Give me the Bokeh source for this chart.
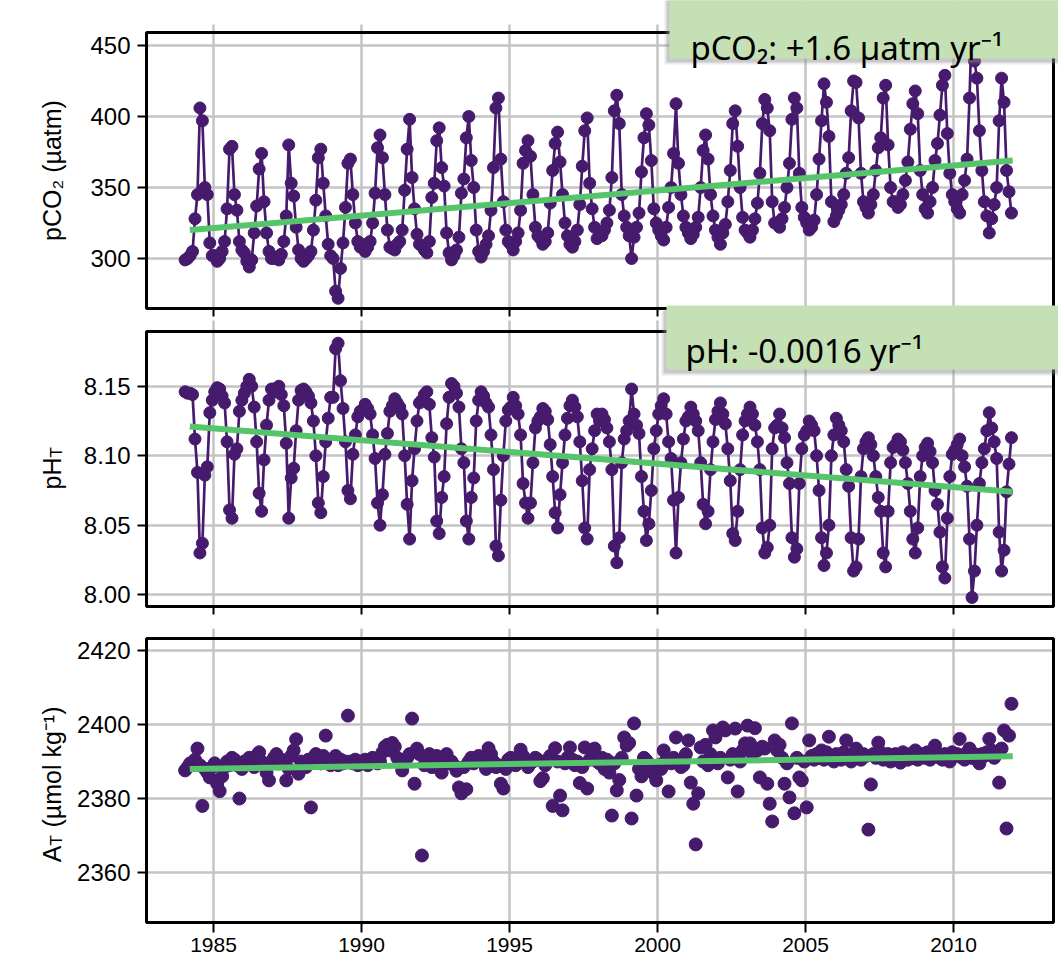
import math
from bokeh.plotting import figure
from bokeh.models import (ColumnDataSource, FixedTicker, NumeralTickFormatter, BoxAnnotation,
                          Label, Range1d, LinearAxis, Grid)
from bokeh.embed import file_html
from bokeh.resources import INLINE

# ---------------- data (monthly, Jan..Dec) ----------------
years = list(range(1984, 2012))

pco2_monthly = [
    [299, 300, 302, 305, 328, 345, 406, 397, 350, 345, 311, 302],  # 1984
    [302, 298, 300, 305, 312, 335, 377, 379, 345, 334, 312, 306],  # 1985
    [304, 298, 294, 299, 318, 337, 363, 374, 340, 318, 305, 300],  # 1986
    [300, 301, 299, 303, 312, 330, 380, 353, 344, 322, 306, 300],  # 1987
    [298, 300, 302, 305, 320, 341, 371, 377, 353, 330, 310, 302],  # 1988
    [300, 277, 272, 293, 311, 336, 367, 370, 345, 325, 312, 308],  # 1989
    [310, 305, 308, 312, 325, 346, 378, 387, 371, 345, 320, 308],  # 1990
    [307, 306, 310, 312, 320, 348, 377, 398, 357, 335, 317, 310],  # 1991
    [309, 306, 304, 312, 343, 353, 383, 392, 364, 351, 318, 304],  # 1992
    [299, 302, 306, 315, 346, 356, 385, 400, 369, 350, 320, 305],  # 1993
    [301, 305, 310, 316, 334, 364, 406, 413, 370, 340, 320, 312],  # 1994
    [310, 306, 312, 318, 334, 367, 376, 383, 372, 345, 322, 316],  # 1995
    [314, 310, 312, 318, 339, 362, 381, 389, 368, 345, 325, 316],  # 1996
    [310, 308, 312, 320, 338, 365, 390, 399, 353, 335, 322, 314],  # 1997
    [318, 316, 320, 325, 334, 357, 404, 415, 395, 345, 330, 322],  # 1998
    [316, 300, 315, 322, 332, 361, 385, 402, 394, 369, 335, 325],  # 1999
    [320, 316, 313, 322, 336, 350, 374, 409, 367, 345, 330, 322],  # 2000
    [318, 314, 317, 322, 329, 350, 376, 387, 370, 345, 330, 320],  # 2001
    [315, 310, 318, 324, 340, 362, 395, 404, 379, 350, 329, 320],  # 2002
    [318, 315, 320, 328, 339, 360, 395, 412, 406, 390, 340, 325],  # 2003
    [325, 322, 328, 336, 350, 367, 398, 413, 406, 360, 336, 329],  # 2004
    [325, 320, 322, 327, 345, 370, 397, 423, 410, 386, 340, 326],  # 2005
    [330, 334, 338, 345, 360, 371, 404, 425, 424, 399, 360, 340],  # 2006
    [336, 332, 338, 345, 362, 378, 385, 413, 422, 380, 350, 340],  # 2007
    [340, 336, 338, 345, 355, 368, 391, 409, 418, 402, 362, 345],  # 2008
    [335, 332, 340, 350, 369, 381, 401, 422, 429, 388, 360, 345],  # 2009
    [340, 335, 332, 345, 355, 370, 413, 470, 439, 427, 390, 362],  # 2010
    [340, 330, 318, 328, 338, 350, 397, 427, 410, 362, 347, 332],  # 2011
]

ph_monthly = [
    [8.146, 8.145, 8.145, 8.144, 8.112, 8.088, 8.030, 8.037, 8.086, 8.092, 8.131, 8.140],
    [8.146, 8.149, 8.148, 8.143, 8.138, 8.110, 8.061, 8.055, 8.101, 8.105, 8.132, 8.140],
    [8.145, 8.150, 8.155, 8.150, 8.135, 8.110, 8.073, 8.060, 8.097, 8.122, 8.140, 8.148],
    [8.148, 8.146, 8.150, 8.144, 8.136, 8.109, 8.055, 8.084, 8.091, 8.118, 8.140, 8.147],
    [8.148, 8.146, 8.143, 8.138, 8.125, 8.100, 8.066, 8.059, 8.085, 8.110, 8.127, 8.142],
    [8.142, 8.177, 8.181, 8.154, 8.134, 8.110, 8.075, 8.069, 8.101, 8.115, 8.128, 8.132],
    [8.133, 8.137, 8.134, 8.130, 8.115, 8.098, 8.066, 8.050, 8.072, 8.101, 8.116, 8.132],
    [8.136, 8.141, 8.138, 8.135, 8.130, 8.100, 8.065, 8.040, 8.082, 8.105, 8.125, 8.138],
    [8.140, 8.144, 8.146, 8.137, 8.113, 8.099, 8.053, 8.044, 8.070, 8.085, 8.123, 8.142],
    [8.152, 8.150, 8.145, 8.135, 8.105, 8.095, 8.053, 8.040, 8.070, 8.084, 8.125, 8.140],
    [8.146, 8.143, 8.138, 8.135, 8.115, 8.090, 8.035, 8.028, 8.068, 8.100, 8.125, 8.133],
    [8.135, 8.142, 8.136, 8.130, 8.115, 8.080, 8.066, 8.055, 8.066, 8.095, 8.120, 8.125],
    [8.128, 8.134, 8.132, 8.126, 8.108, 8.085, 8.059, 8.048, 8.072, 8.095, 8.115, 8.127],
    [8.136, 8.140, 8.135, 8.128, 8.110, 8.082, 8.048, 8.040, 8.090, 8.105, 8.118, 8.130],
    [8.125, 8.130, 8.126, 8.120, 8.110, 8.090, 8.035, 8.023, 8.041, 8.095, 8.112, 8.118],
    [8.125, 8.148, 8.130, 8.122, 8.116, 8.085, 8.060, 8.039, 8.051, 8.075, 8.105, 8.118],
    [8.130, 8.136, 8.141, 8.130, 8.110, 8.098, 8.068, 8.030, 8.070, 8.095, 8.112, 8.125],
    [8.128, 8.135, 8.130, 8.125, 8.118, 8.095, 8.065, 8.051, 8.060, 8.090, 8.110, 8.126],
    [8.132, 8.138, 8.130, 8.123, 8.105, 8.082, 8.044, 8.039, 8.060, 8.090, 8.115, 8.125],
    [8.130, 8.135, 8.130, 8.122, 8.110, 8.090, 8.048, 8.030, 8.034, 8.050, 8.105, 8.120],
    [8.122, 8.130, 8.120, 8.113, 8.095, 8.080, 8.041, 8.027, 8.033, 8.080, 8.105, 8.115],
    [8.118, 8.125, 8.122, 8.118, 8.100, 8.075, 8.041, 8.021, 8.030, 8.050, 8.100, 8.115],
    [8.127, 8.122, 8.118, 8.110, 8.090, 8.078, 8.041, 8.017, 8.020, 8.040, 8.085, 8.105],
    [8.110, 8.113, 8.108, 8.100, 8.085, 8.070, 8.060, 8.030, 8.020, 8.060, 8.095, 8.106],
    [8.108, 8.112, 8.110, 8.104, 8.095, 8.080, 8.060, 8.040, 8.030, 8.048, 8.085, 8.100],
    [8.106, 8.109, 8.103, 8.095, 8.075, 8.065, 8.045, 8.020, 8.012, 8.055, 8.085, 8.101],
    [8.104, 8.108, 8.112, 8.100, 8.092, 8.078, 8.040, 7.998, 8.017, 8.050, 8.080, 8.095],
    [8.105, 8.118, 8.131, 8.120, 8.110, 8.098, 8.045, 8.017, 8.032, 8.074, 8.094, 8.113],
]

at_monthly = [
    [2387.6, 2388.5, 2389.5, 2389.0, 2390.5, 2393.5, 2389.0, 2378.0, 2388.0, 2387.0, 2385.7, 2388.5],
    [2389.5, 2384.0, 2382.0, 2386.0, 2388.5, 2390.0, 2389.0, 2391.0, 2390.5, 2389.0, 2380.0, 2388.0],
    [2390.0, 2389.5, 2391.0, 2390.5, 2388.5, 2391.6, 2392.5, 2390.0, 2389.0, 2387.0, 2384.9, 2390.0],
    [2391.0, 2392.0, 2389.5, 2390.5, 2390.0, 2384.9, 2388.0, 2391.5, 2393.0, 2396.0, 2386.7, 2390.0],
    [2389.0, 2388.5, 2390.5, 2377.6, 2391.0, 2392.0, 2390.5, 2389.5, 2391.5, 2397.0, 2390.5, 2389.0],
    [2390.0, 2391.5, 2389.0, 2390.5, 2389.5, 2390.0, 2402.4, 2390.0, 2389.5, 2390.5, 2389.0, 2390.0],
    [2389.5, 2390.5, 2389.0, 2390.0, 2391.0, 2390.5, 2389.5, 2390.0, 2392.5, 2394.0, 2394.5, 2393.0],
    [2395.0, 2394.0, 2391.0, 2390.0, 2387.6, 2390.5, 2391.0, 2392.0, 2401.6, 2384.0, 2393.5, 2392.0],
    [2364.6, 2389.0, 2390.5, 2392.0, 2388.5, 2390.0, 2391.5, 2388.0, 2387.0, 2390.5, 2392.0, 2389.5],
    [2390.0, 2389.0, 2387.5, 2383.0, 2381.4, 2388.5, 2382.5, 2390.0, 2391.0, 2389.5, 2390.5, 2391.5],
    [2390.0, 2389.5, 2388.0, 2393.6, 2392.0, 2390.0, 2388.5, 2389.0, 2384.0, 2382.7, 2388.0, 2390.5],
    [2391.0, 2390.5, 2389.0, 2390.0, 2393.2, 2391.5, 2390.0, 2388.5, 2389.5, 2390.0, 2391.0, 2390.5],
    [2384.7, 2385.5, 2389.0, 2390.5, 2391.5, 2378.0, 2393.6, 2390.0, 2380.8, 2376.8, 2389.5, 2391.0],
    [2393.8, 2390.5, 2389.0, 2390.0, 2384.2, 2388.5, 2393.8, 2382.7, 2390.5, 2391.0, 2393.5, 2390.0],
    [2389.5, 2391.0, 2388.0, 2390.5, 2387.0, 2375.4, 2389.5, 2382.2, 2385.0, 2391.0, 2396.5, 2394.3],
    [2395.0, 2374.6, 2400.3, 2380.8, 2388.0, 2386.0, 2391.0, 2390.3, 2387.5, 2389.0, 2386.7, 2384.9],
    [2389.0, 2388.0, 2393.0, 2390.5, 2381.9, 2389.5, 2391.0, 2396.5, 2390.0, 2388.5, 2389.0, 2392.0],
    [2395.7, 2384.3, 2378.6, 2367.6, 2381.4, 2393.8, 2390.0, 2394.5, 2389.0, 2392.0, 2398.4, 2396.5],
    [2389.5, 2391.0, 2399.2, 2398.4, 2385.7, 2390.5, 2392.0, 2398.9, 2381.9, 2390.0, 2393.0, 2394.9],
    [2399.7, 2394.9, 2392.0, 2399.0, 2393.0, 2385.7, 2394.0, 2393.5, 2384.0, 2378.6, 2373.8, 2395.7],
    [2393.0, 2394.5, 2391.0, 2384.0, 2389.5, 2380.3, 2400.3, 2376.0, 2391.0, 2385.7, 2384.9, 2390.0],
    [2377.6, 2395.7, 2391.5, 2390.5, 2392.0, 2391.0, 2393.0, 2390.5, 2392.5, 2396.7, 2391.0, 2390.0],
    [2392.0, 2391.0, 2390.5, 2392.5, 2395.7, 2391.0, 2390.0, 2392.0, 2393.5, 2391.0, 2390.5, 2392.0],
    [2391.5, 2371.6, 2383.8, 2392.0, 2391.0, 2395.1, 2392.5, 2390.5, 2391.0, 2392.0, 2390.0, 2391.5],
    [2392.0, 2391.0, 2389.7, 2392.5, 2391.5, 2390.5, 2392.0, 2391.0, 2393.0, 2390.5, 2391.5, 2392.0],
    [2391.0, 2392.5, 2390.5, 2391.5, 2394.3, 2392.0, 2391.0, 2390.5, 2392.0, 2391.5, 2390.0, 2392.5],
    [2391.5, 2392.0, 2396.1, 2391.0, 2390.5, 2392.5, 2393.5, 2391.0, 2392.0, 2390.5, 2389.5, 2392.0],
    [2391.5, 2392.5, 2396.1, 2393.0, 2391.0, 2392.0, 2384.3, 2393.5, 2398.4, 2371.9, 2397.0, 2405.6],
]

trend_years = [1984.2, 2012.0]
pco2_trend = [320.0, 369.0]
ph_trend = [8.121, 8.074]
at_trend = [2388.0, 2391.4]

x_ticks = [1985, 1990, 1995, 2000, 2005, 2010]
pco2_ticks = [300, 350, 400, 450]
ph_ticks = [8.00, 8.05, 8.10, 8.15]
at_ticks = [2360, 2380, 2400, 2420]

pco2_note = "pCO\u2082: +1.6 \u00b5atm yr\u207b\u00b9"
ph_note = "pH: -0.0016 yr\u207b\u00b9"

# ---------------- flatten ----------------
t_month = [y + (m + 0.5) / 12.0 for y in years for m in range(12)]
pco2 = [v for row in pco2_monthly for v in row]
ph = [v for row in ph_monthly for v in row]
at = [v for row in at_monthly for v in row]

# ---------------- layout (pixels) ----------------
W, H = 1058, 966
FL, FR = 146, 1053          # panel frame left / right (px)
PXY = 29.6                  # px per year
PURPLE = "#461a6c"
GREEN = "#55c46a"
GRID = "#c4c4c4"
BOXC = "#c5e0b4"
SHADOW = "#8c8c8c"
FONT = "Liberation Sans"

P1 = dict(name="default", ftop=32, fbot=308, y0=264.8, y1=459.15)
P2 = dict(name="ph", ftop=331, fbot=606, y0=7.9915, y1=8.1894)
P3 = dict(name="at", ftop=638, fbot=922, y0=2346.5, y1=2423.24)


def xpx(px):
    return 1985 + (px - 213) / PXY


def yval(P, py):
    return P["y1"] - (py - P["ftop"]) * (P["y1"] - P["y0"]) / (P["fbot"] - P["ftop"])


def yd(py):          # pixel row -> value on the default (panel 1) range
    return yval(P1, py)


def full_range(P):
    return Range1d(yval(P, H), yval(P, 0))


p = figure(width=W, height=H, x_range=Range1d(xpx(0), xpx(W)), y_range=full_range(P1),
           x_axis_type=None, y_axis_type=None, output_backend="svg", toolbar_location=None,
           min_border=0, min_border_left=0, min_border_right=0, min_border_top=0,
           min_border_bottom=0)
p.extra_y_ranges = {"ph": full_range(P2), "at": full_range(P3)}
p.outline_line_color = None
p.background_fill_color = "white"
p.border_fill_color = "white"

# grids
p.add_layout(Grid(dimension=0, ticker=FixedTicker(ticks=x_ticks), grid_line_color=GRID,
                  grid_line_width=2.5))
for P, ticks in ((P1, pco2_ticks), (P2, ph_ticks), (P3, at_ticks)):
    p.add_layout(Grid(dimension=1, y_range_name=P["name"], ticker=FixedTicker(ticks=ticks),
                      grid_line_color=GRID, grid_line_width=2.5))

# white covers outside the panels (grid lines only show inside / just around panels)
covers = [(-20, FL, -20, H + 20), (FR, W + 20, -20, H + 20),
          (-20, W + 20, -20, 24), (-20, W + 20, 308, 320),
          (-20, W + 20, 606, 628), (-20, W + 20, 922, H + 20)]
for l, r, t, b in covers:
    p.add_layout(BoxAnnotation(left=xpx(l), right=xpx(r), top=yd(t), bottom=yd(b),
                               fill_color="white", fill_alpha=1.0, line_color=None,
                               level="underlay"))

# data
for P, vals, line in ((P1, pco2, True), (P2, ph, True), (P3, at, False)):
    src = ColumnDataSource(dict(t=t_month, v=vals))
    if line:
        p.line("t", "v", source=src, line_color=PURPLE, line_width=2.7, y_range_name=P["name"])
        p.scatter("t", "v", source=src, size=12, fill_color=PURPLE, line_color=PURPLE,
                  y_range_name=P["name"])
    else:
        p.scatter("t", "v", source=src, size=13, fill_color=PURPLE, line_color=PURPLE,
                  y_range_name=P["name"])

for P, tr in ((P1, pco2_trend), (P2, ph_trend), (P3, at_trend)):
    p.line(trend_years, tr, line_color=GREEN, line_width=6, y_range_name=P["name"])

# panel frames
for P in (P1, P2, P3):
    p.add_layout(BoxAnnotation(left=xpx(FL), right=xpx(FR), top=P["y1"], bottom=P["y0"],
                               y_range_name=P["name"], fill_color=None, fill_alpha=0.0,
                               line_color="black", line_alpha=1.0, line_width=3,
                               level="annotation"))

# axes (fixed at the panel edges)
for P, ticks, fmt in ((P1, pco2_ticks, "0"), (P2, ph_ticks, "0.00"), (P3, at_ticks, "0")):
    ax = LinearAxis(y_range_name=P["name"], fixed_location=xpx(FL),
                    ticker=FixedTicker(ticks=ticks), formatter=NumeralTickFormatter(format=fmt))
    ax.axis_line_color = None
    ax.major_tick_line_color = "black"
    ax.major_tick_line_width = 2
    ax.major_tick_in = 0
    ax.major_tick_out = 9
    ax.minor_tick_line_color = None
    ax.major_label_text_font = FONT
    ax.major_label_text_font_size = "24px"
    ax.major_label_text_color = "black"
    ax.major_label_standoff = 7
    p.add_layout(ax, "left")

    bx = LinearAxis(y_range_name=P["name"], fixed_location=P["y0"],
                    ticker=FixedTicker(ticks=x_ticks))
    bx.axis_line_color = None
    bx.major_tick_line_color = "black"
    bx.major_tick_line_width = 2
    bx.major_tick_in = 0
    bx.minor_tick_line_color = None
    if P is P3:
        bx.major_tick_out = 10
        bx.major_label_text_font = FONT
        bx.major_label_text_font_size = "21px"
        bx.major_label_text_color = "black"
        bx.major_label_standoff = 5
    else:
        bx.major_tick_out = 8
        bx.major_label_text_color = None
    p.add_layout(bx, "below")


# y-axis titles (rotated)
def vlabel(text, x_px, y_px, size, align):
    p.add_layout(Label(x=xpx(x_px), y=yd(y_px), text=text, angle=math.pi / 2,
                       text_font=FONT, text_font_size=size, text_color="black",
                       text_align=align, text_baseline="alphabetic"))


BASE = 51
vlabel("pCO\u2082 (\u00b5atm)", BASE, 170, "25px", "center")
vlabel("pH", BASE, 457, "25px", "right")
vlabel("T", BASE + 5, 457, "17px", "left")
vlabel("A", BASE, 845, "25px", "right")
vlabel("T", BASE + 5, 845, "17px", "left")
vlabel("(\u00b5mol kg\u207b\u00b9)", BASE, 827, "25px", "left")


# annotation boxes
def note_box(left_px, top_px, bottom_px):
    for dx, dy, a in ((-5, 6, 0.18), (-3, 4, 0.35)):
        p.add_layout(BoxAnnotation(left=xpx(left_px + dx), right=xpx(W + 20),
                                   top=yd(top_px + dy), bottom=yd(bottom_px + dy),
                                   fill_color=SHADOW, fill_alpha=a, line_color=None,
                                   level="overlay"))
    p.add_layout(BoxAnnotation(left=xpx(left_px), right=xpx(W + 20), top=yd(top_px),
                               bottom=yd(bottom_px), fill_color=BOXC, fill_alpha=1.0,
                               line_color=None, level="overlay"))


note_box(669, -20, 58)
note_box(666, 305, 369)
p.add_layout(Label(x=xpx(690), y=yd(47), text=pco2_note, text_font="Noto Sans",
                   text_font_size="33px", text_color="black", text_baseline="alphabetic",
                   text_align="left", level="overlay"))
p.add_layout(Label(x=xpx(685), y=yd(350), text=ph_note, text_font="Noto Sans",
                   text_font_size="33px", text_color="black", text_baseline="alphabetic",
                   text_align="left", level="overlay"))

open("out.html", "w").write(file_html(p, INLINE))
